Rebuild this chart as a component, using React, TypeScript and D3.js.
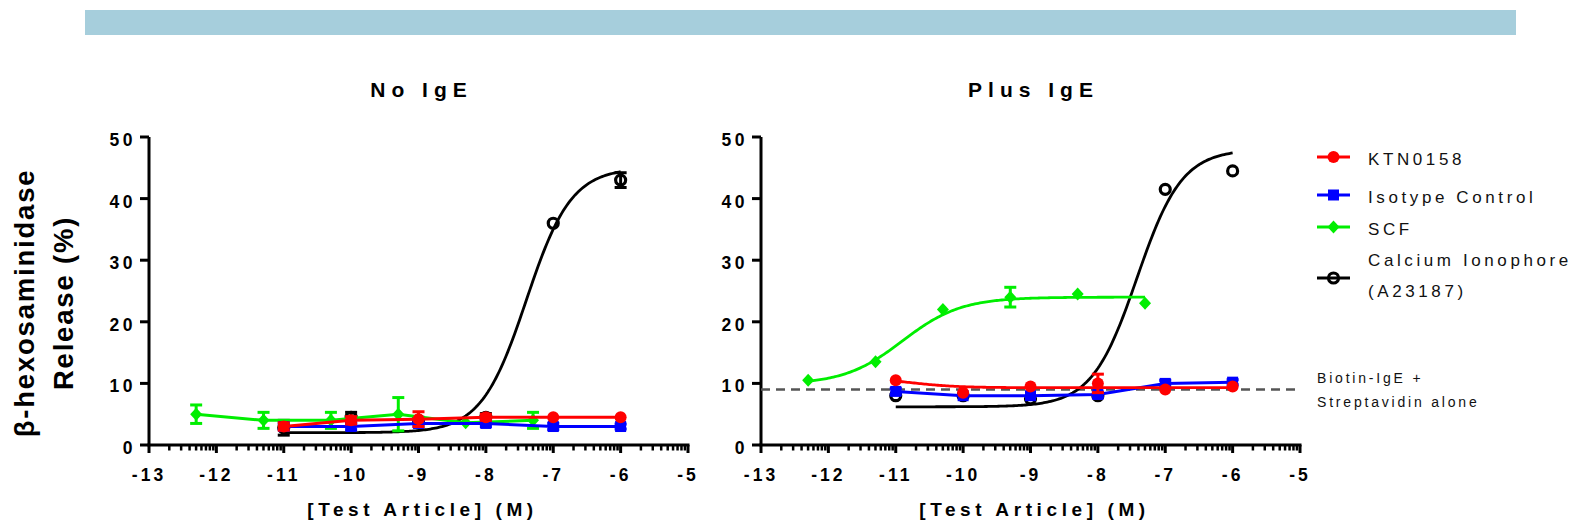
import React, { useEffect, useRef } from 'react';
import * as d3 from 'd3';

// x positions (log M)
const doses = [-11, -10, -9, -8, -7, -6];
const scfDoses = [-12.3, -11.3, -10.3, -9.3, -8.3, -7.3];
const xTicks = [-13, -12, -11, -10, -9, -8, -7, -6, -5];
const yTicks = [0, 10, 20, 30, 40, 50];

// No IgE panel
const ktnNo = [3, 4, 4.2, 4.5, 4.5, 4.5];
const ktnNoErr = [0.6, 0.6, 1.2, 0.5, 0.3, 0.3];
const isoNo = [3, 3, 3.5, 3.5, 3, 3];
const isoNoErr = [0.5, 0.5, 0.5, 0.5, 0.5, 0.4];
const scfNo = [5, 4, 4, 5, 3.6, 4];
const scfNoErr = [1.5, 1.3, 1.3, 2.7, 0, 1.3];
const caNo = [2.8, 4.5, 4, 4.5, 36, 43];
const caNoErr = [1.2, 0.8, 0.5, 0.6, 0.3, 1.2];
const caNoFit = [2, 45, -7.4, 1.3]; // bottom, top, logEC50, hill

// Plus IgE panel
const ktnPlus = [10.5, 8.5, 9.5, 10, 9, 9.5];
const ktnPlusErr = [0.3, 0.3, 0.3, 1.5, 0.3, 0.3];
const ktnPlusFit = [11, 9.3, -10.8, 1.2];
const isoPlus = [8.7, 8, 8, 8.2, 10, 10.2];
const isoPlusErr = [0.5, 0.3, 0.3, 0.4, 0.5, 0.4];
const scfPlus = [10.5, 13.5, 22, 24, 24.5, 23];
const scfPlusErr = [0, 0, 0, 1.6, 0, 0];
const scfPlusFit = [9.8, 24, -10.9, 1];
const caPlus = [8, 8, 7.5, 8, 41.5, 44.5];
const caPlusErr = [0.3, 0.3, 0.3, 0.3, 0.3, 0.3];
const caPlusFit = [6.2, 48, -7.42, 1.3];
const baseline = 9;

const RED = '#ff0000';
const BLUE = '#0000ff';
const GREEN = '#00ee00';
const BLACK = '#000000';
const FONT = 'Arial, "Liberation Sans", Helvetica, sans-serif';

const sigmoid = (p: number[], x: number) => p[0] + (p[1] - p[0]) / (1 + Math.pow(10, (p[2] - x) * p[3]));

type Shape = 'circle' | 'square' | 'diamond' | 'open';

const drawMarker = (g: any, shape: Shape, cx: number, cy: number, color: string) => {
  if (shape === 'circle') {
    g.append('circle').attr('cx', cx).attr('cy', cy).attr('r', 6).attr('fill', color);
  } else if (shape === 'square') {
    g.append('rect').attr('x', cx - 5.5).attr('y', cy - 5.5).attr('width', 11).attr('height', 11).attr('fill', color);
  } else if (shape === 'diamond') {
    g.append('path').attr('d', `M${cx},${cy - 6.5}L${cx + 6},${cy}L${cx},${cy + 6.5}L${cx - 6},${cy}Z`).attr('fill', color);
  } else {
    g.append('circle').attr('cx', cx).attr('cy', cy).attr('r', 5).attr('fill', 'none')
      .attr('stroke', color).attr('stroke-width', 3.2);
  }
};

const App = () => {
  const ref = useRef<SVGSVGElement>(null);

  useEffect(() => {
    const svg = d3.select(ref.current);
    svg.selectAll('*').remove();

    // banner
    svg.append('rect').attr('x', 85).attr('y', 10).attr('width', 1431).attr('height', 25).attr('fill', '#a6cedc');

    const yTop = 137;
    const yBottom = 445;
    const y = d3.scaleLinear().domain([0, 50]).range([yBottom, yTop]);

    const drawPanel = (left: number, title: string) => {
      const x = d3.scaleLinear().domain([-13, -5]).range([left, left + 539]);
      const g = svg.append('g');

      // axes
      g.append('line').attr('x1', left).attr('x2', left).attr('y1', yTop).attr('y2', yBottom)
        .attr('stroke', BLACK).attr('stroke-width', 3);
      g.append('line').attr('x1', left - 1.5).attr('x2', x(-5) + 1.5).attr('y1', yBottom).attr('y2', yBottom)
        .attr('stroke', BLACK).attr('stroke-width', 3);

      yTicks.forEach(t => {
        g.append('line').attr('x1', left - 9).attr('x2', left).attr('y1', y(t)).attr('y2', y(t))
          .attr('stroke', BLACK).attr('stroke-width', 3);
        g.append('text').attr('x', left - 13).attr('y', y(t) + 9).attr('text-anchor', 'end')
          .attr('font-family', FONT).attr('font-size', 17.5).attr('font-weight', 'bold')
          .attr('letter-spacing', 3.5).text(t);
      });

      xTicks.forEach(t => {
        g.append('line').attr('x1', x(t)).attr('x2', x(t)).attr('y1', yBottom).attr('y2', yBottom + 8)
          .attr('stroke', BLACK).attr('stroke-width', 3);
        g.append('text').attr('x', x(t)).attr('y', yBottom + 36).attr('text-anchor', 'middle')
          .attr('font-family', FONT).attr('font-size', 17.5).attr('font-weight', 'bold')
          .attr('letter-spacing', 3).text(t);
        if (t < -5) {
          for (let k = 2; k <= 9; k++) {
            const xm = x(t + Math.log10(k));
            g.append('line').attr('x1', xm).attr('x2', xm).attr('y1', yBottom).attr('y2', yBottom + 5.5)
              .attr('stroke', BLACK).attr('stroke-width', 2.5);
          }
        }
      });

      g.append('text').attr('x', (left + x(-5)) / 2 + 3).attr('y', 97).attr('text-anchor', 'middle')
        .attr('font-family', FONT).attr('font-size', 21).attr('font-weight', 'bold')
        .attr('letter-spacing', 6).text(title);
      g.append('text').attr('x', (left + x(-5)) / 2 + 4).attr('y', 516).attr('text-anchor', 'middle')
        .attr('font-family', FONT).attr('font-size', 19).attr('font-weight', 'bold')
        .attr('letter-spacing', 4.6).text('[Test Article] (M)');
      return { x, g };
    };

    const line = (x: any) => d3.line<[number, number]>().x(d => x(d[0])).y(d => y(d[1]));

    const drawSeries = (
      p: { x: any; g: any }, xs: number[], ys: number[], errs: number[], color: string, shape: Shape,
      fit: number[] | null, connect: boolean
    ) => {
      const sg = p.g.append('g');
      if (fit) {
        const pts: [number, number][] = d3.range(0, 201).map(i => {
          const xv = xs[0] + (xs[xs.length - 1] - xs[0]) * i / 200;
          return [xv, sigmoid(fit, xv)];
        });
        sg.append('path').attr('d', line(p.x)(pts)).attr('fill', 'none').attr('stroke', color).attr('stroke-width', 2.8);
      } else if (connect) {
        sg.append('path').attr('d', line(p.x)(xs.map((v, i) => [v, ys[i]] as [number, number])))
          .attr('fill', 'none').attr('stroke', color).attr('stroke-width', 3);
      }
      xs.forEach((xv, i) => {
        const e = errs[i];
        const cx = p.x(xv);
        if (e > 0.35) {
          sg.append('line').attr('x1', cx).attr('x2', cx).attr('y1', y(ys[i] - e)).attr('y2', y(ys[i] + e))
            .attr('stroke', color).attr('stroke-width', 3);
          [ys[i] - e, ys[i] + e].forEach(v => {
            sg.append('line').attr('x1', cx - 6).attr('x2', cx + 6).attr('y1', y(v)).attr('y2', y(v))
              .attr('stroke', color).attr('stroke-width', 3);
          });
        }
        drawMarker(sg, shape, cx, y(ys[i]), color);
      });
    };

    // No IgE
    const p1 = drawPanel(149, 'No IgE');
    drawSeries(p1, doses, caNo, caNoErr, BLACK, 'open', null, false);
    p1.g.append('path').attr('d', line(p1.x)(d3.range(0, 201).map(i => {
      const xv = -11 + 5 * i / 200;
      return [xv, sigmoid(caNoFit, xv)] as [number, number];
    }))).attr('fill', 'none').attr('stroke', BLACK).attr('stroke-width', 2.8);
    drawSeries(p1, scfDoses, scfNo, scfNoErr, GREEN, 'diamond', null, true);
    drawSeries(p1, doses, isoNo, isoNoErr, BLUE, 'square', null, true);
    drawSeries(p1, doses, ktnNo, ktnNoErr, RED, 'circle', null, true);

    // Plus IgE
    const p2 = drawPanel(761, 'Plus IgE');
    p2.g.append('line').attr('x1', 761).attr('x2', 1300).attr('y1', y(baseline)).attr('y2', y(baseline))
      .attr('stroke', '#555').attr('stroke-width', 2.5).attr('stroke-dasharray', '9,6');
    drawSeries(p2, doses, caPlus, caPlusErr, BLACK, 'open', caPlusFit, false);
    drawSeries(p2, scfDoses, scfPlus, scfPlusErr, GREEN, 'diamond', scfPlusFit, false);
    drawSeries(p2, doses, isoPlus, isoPlusErr, BLUE, 'square', null, true);
    drawSeries(p2, doses, ktnPlus, ktnPlusErr, RED, 'circle', ktnPlusFit, false);

    // y axis title
    const yt = svg.append('text').attr('transform', 'translate(34,303) rotate(-90)').attr('text-anchor', 'middle')
      .attr('font-family', FONT).attr('font-size', 27.5).attr('font-weight', 'bold').attr('letter-spacing', 1.8);
    yt.append('tspan').attr('x', 0).attr('y', 0).text('β-hexosaminidase');
    yt.append('tspan').attr('x', 0).attr('y', 39).text('Release (%)');

    // legend
    const legend = [
      { label: ['KTN0158'], color: RED, shape: 'circle' as Shape, y: 157 },
      { label: ['Isotype Control'], color: BLUE, shape: 'square' as Shape, y: 195 },
      { label: ['SCF'], color: GREEN, shape: 'diamond' as Shape, y: 227 },
      { label: ['Calcium Ionophore', '(A23187)'], color: BLACK, shape: 'open' as Shape, y: 278 },
    ];
    const lg = svg.append('g');
    legend.forEach(l => {
      lg.append('line').attr('x1', 1317).attr('x2', 1350).attr('y1', l.y).attr('y2', l.y)
        .attr('stroke', l.color).attr('stroke-width', 3);
      drawMarker(lg, l.shape, 1333.5, l.y, l.color);
      l.label.forEach((t, i) => {
        const by = l.label.length > 1 ? l.y - 12 + i * 31 : l.y + 8;
        lg.append('text').attr('x', 1368).attr('y', by).attr('font-family', FONT).attr('font-size', 17)
          .attr('letter-spacing', 3.6).attr('fill', '#111').text(t);
      });
    });
    ['Biotin-IgE +', 'Streptavidin alone'].forEach((t, i) => {
      lg.append('text').attr('x', 1317).attr('y', 383 + i * 23.5).attr('font-family', FONT).attr('font-size', 14)
        .attr('letter-spacing', 2.8).attr('fill', '#111').text(t);
    });
  }, []);

  return (
    <svg ref={ref} width={1578} height={531} style={{ position: 'absolute', left: 0, top: 0, background: '#fff' }} />
  );
};

export default App;
